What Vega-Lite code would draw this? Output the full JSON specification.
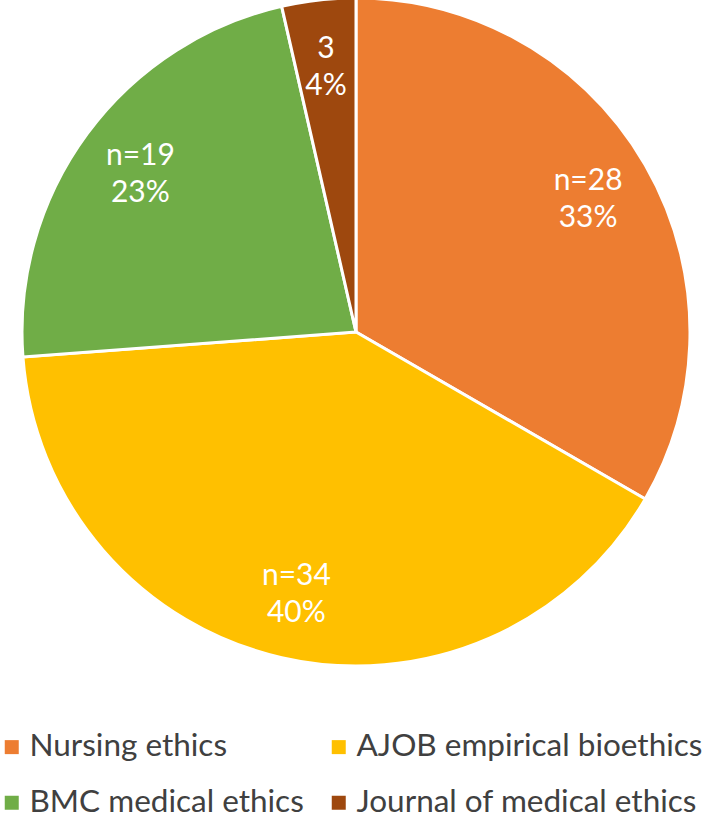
{
  "$schema": "https://vega.github.io/schema/vega-lite/v6.json",
  "width": 704,
  "height": 664,
  "autosize": {"type": "none"},
  "padding": {"left": 4, "top": 0, "right": 0, "bottom": 156},
  "background": "white",
  "config": {"view": {"stroke": null}, "font": "Lato"},
  "data": {
    "values": [
      {"journal": "Nursing ethics", "n": 28, "label": "n=28\n33%", "order": 1},
      {"journal": "AJOB empirical bioethics", "n": 34, "label": "n=34\n40%", "order": 2},
      {"journal": "BMC medical ethics", "n": 19, "label": "n=19\n23%", "order": 3},
      {"journal": "Journal of medical ethics", "n": 3, "label": "3\n4%", "order": 4}
    ]
  },
  "encoding": {
    "theta": {"field": "n", "type": "quantitative", "stack": true},
    "order": {"field": "order", "type": "quantitative"}
  },
  "layer": [
    {
      "mark": {"type": "arc", "outerRadius": 334, "stroke": "white", "strokeWidth": 3},
      "encoding": {
        "color": {
          "field": "journal",
          "type": "nominal",
          "sort": ["Nursing ethics", "AJOB empirical bioethics", "BMC medical ethics", "Journal of medical ethics"],
          "scale": {
            "domain": ["Nursing ethics", "AJOB empirical bioethics", "BMC medical ethics", "Journal of medical ethics"],
            "range": ["#ED7D31", "#FFC000", "#70AD47", "#9E480E"]
          },
          "legend": {
            "title": null,
            "orient": "none",
            "legendX": -8,
            "legendY": 731,
            "columns": 2,
            "direction": "horizontal",
            "symbolType": "square",
            "symbolSize": 196,
            "symbolStrokeWidth": 0,
            "labelFontSize": 31.5,
            "labelFont": "Lato",
            "labelColor": "#404040",
            "labelOffset": 2,
            "rowPadding": 23,
            "columnPadding": 19,
            "labelLimit": 420
          }
        }
      }
    },
    {
      "mark": {"type": "text", "radius": 268, "dy": -17, "color": "white", "fontSize": 30, "font": "Lato", "lineBreak": "\n", "lineHeight": 37, "align": "center", "baseline": "middle"},
      "encoding": {
        "text": {"field": "label", "type": "nominal"}
      }
    }
  ]
}
